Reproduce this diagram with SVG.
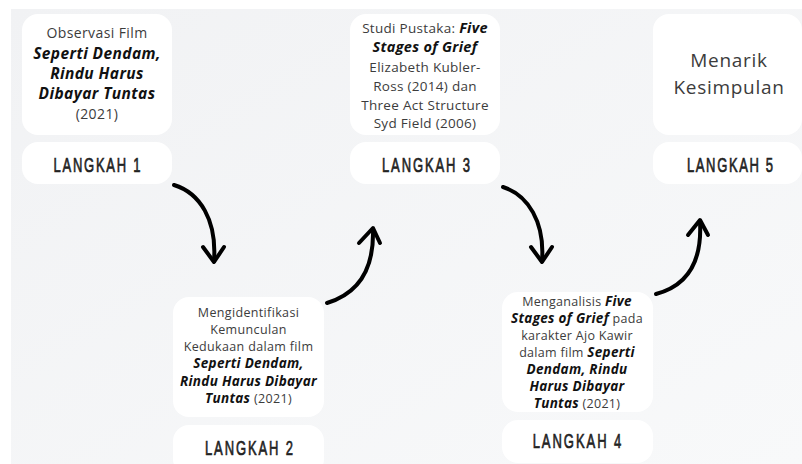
<svg xmlns="http://www.w3.org/2000/svg" width="802" height="464" viewBox="0 0 802 464">
<defs>
<linearGradient id="bg" x1="0" y1="0" x2="1" y2="1">
<stop offset="0" stop-color="#f1f2f4"/>
<stop offset="1" stop-color="#f8f9fa"/>
</linearGradient>
<style>
.box{fill:#ffffff;}
.t{font-family:"Open Sans","DejaVu Sans",sans-serif;fill:#3c3c3c;text-anchor:middle;}
.b{font-weight:bold;font-style:italic;fill:#111111;}
.lk{font-family:"Liberation Sans",Arial,sans-serif;font-size:21px;fill:#222222;stroke:#222222;stroke-width:0.7;text-anchor:middle;}
.arr{fill:none;stroke:#000000;stroke-width:4;stroke-linecap:round;stroke-linejoin:round;}
</style>
</defs>
<rect x="0" y="0" width="802" height="464" fill="#ffffff"/>
<rect x="11" y="9" width="791" height="455" fill="url(#bg)"/>

<g id="step1">
<rect class="box" x="22" y="14" width="150" height="121" rx="16"/>
<text class="t" font-size="14" letter-spacing="0.4"><tspan x="97" y="38">Observasi Film</tspan><tspan class="b" x="97" y="59" font-size="15.5" letter-spacing="0.4">Seperti Dendam,</tspan><tspan class="b" x="97" y="79" font-size="15.5" letter-spacing="0.4">Rindu Harus</tspan><tspan class="b" x="97" y="99" font-size="15.5" letter-spacing="0.4">Dibayar Tuntas</tspan><tspan x="97" y="119">(2021)</tspan></text>
<rect class="box" x="22" y="142" width="150" height="42" rx="16"/>
<text class="lk" transform="translate(97,172) scale(0.62,1)" x="0" y="0" textLength="140" lengthAdjust="spacing">LANGKAH 1</text>
</g>

<g id="step2">
<rect class="box" x="173" y="297" width="151" height="120" rx="16"/>
<text class="t" font-size="12.5" letter-spacing="0.35"><tspan x="248.5" y="317">Mengidentifikasi</tspan><tspan x="248.5" y="334">Kemunculan</tspan><tspan x="248.5" y="351">Kedukaan dalam film</tspan><tspan class="b" x="248.5" y="368" font-size="13.5" letter-spacing="0.3">Seperti Dendam,</tspan><tspan class="b" x="248.5" y="386" font-size="13.5" letter-spacing="0.3">Rindu Harus Dibayar</tspan><tspan x="248.5" y="403"><tspan class="b" font-size="13.5" letter-spacing="0.3">Tuntas</tspan> (2021)</tspan></text>
<rect class="box" x="173" y="425" width="151" height="50" rx="16"/>
<text class="lk" transform="translate(249,455) scale(0.62,1)" x="0" y="0" textLength="142" lengthAdjust="spacing">LANGKAH 2</text>
</g>

<g id="step3">
<rect class="box" x="350" y="14" width="150" height="121" rx="16"/>
<text class="t" font-size="13.5" letter-spacing="0.3"><tspan x="425" y="33">Studi Pustaka: <tspan class="b" font-size="14.5">Five</tspan></tspan><tspan class="b" x="425" y="52" font-size="14.5">Stages of Grief</tspan><tspan x="425" y="72">Elizabeth Kubler-</tspan><tspan x="425" y="91">Ross (2014) dan</tspan><tspan x="425" y="110">Three Act Structure</tspan><tspan x="425" y="128">Syd Field (2006)</tspan></text>
<rect class="box" x="350" y="142" width="150" height="42" rx="16"/>
<text class="lk" transform="translate(426,172) scale(0.62,1)" x="0" y="0" textLength="142" lengthAdjust="spacing">LANGKAH 3</text>
</g>

<g id="step4">
<rect class="box" x="502" y="292" width="151" height="120" rx="16"/>
<text class="t" font-size="12.5" letter-spacing="0.3"><tspan x="577" y="306">Menganalisis <tspan class="b" font-size="13.5">Five</tspan></tspan><tspan x="577" y="323"><tspan class="b" font-size="13.5">Stages of Grief</tspan> pada</tspan><tspan x="577" y="340">karakter Ajo Kawir</tspan><tspan x="577" y="357">dalam film <tspan class="b" font-size="13.5">Seperti</tspan></tspan><tspan class="b" x="577" y="374" font-size="13.5">Dendam, Rindu</tspan><tspan class="b" x="577" y="391" font-size="13.5">Harus Dibayar</tspan><tspan x="577" y="408"><tspan class="b" font-size="13.5">Tuntas</tspan> (2021)</tspan></text>
<rect class="box" x="502" y="420" width="151" height="43" rx="16"/>
<text class="lk" transform="translate(577,448) scale(0.62,1)" x="0" y="0" textLength="143" lengthAdjust="spacing">LANGKAH 4</text>
</g>

<g id="step5">
<rect class="box" x="653" y="14" width="149" height="121" rx="16"/>
<text class="t" font-size="19" letter-spacing="0.7"><tspan x="729" y="67">Menarik</tspan><tspan x="729" y="94">Kesimpulan</tspan></text>
<rect class="box" x="653" y="142" width="149" height="42" rx="16"/>
<text class="lk" transform="translate(730,172) scale(0.62,1)" x="0" y="0" textLength="139" lengthAdjust="spacing">LANGKAH 5</text>
</g>

<g id="connectors">
<path class="arr" d="M174,185 C200,193 217,220 214,261"/>
<path class="arr" d="M203,247 L214,262 L224,247"/>
<path class="arr" d="M327,303 C360,293 374,268 373,230"/>
<path class="arr" d="M359,243 L373,228 L380,243"/>
<path class="arr" d="M503,187 C528,195 545,222 542,261"/>
<path class="arr" d="M531,247 L542,262 L552,247"/>
<path class="arr" d="M656,294 C690,285 702,258 700,222"/>
<path class="arr" d="M688,235 L700,220 L708,235"/>
</g>
</svg>
